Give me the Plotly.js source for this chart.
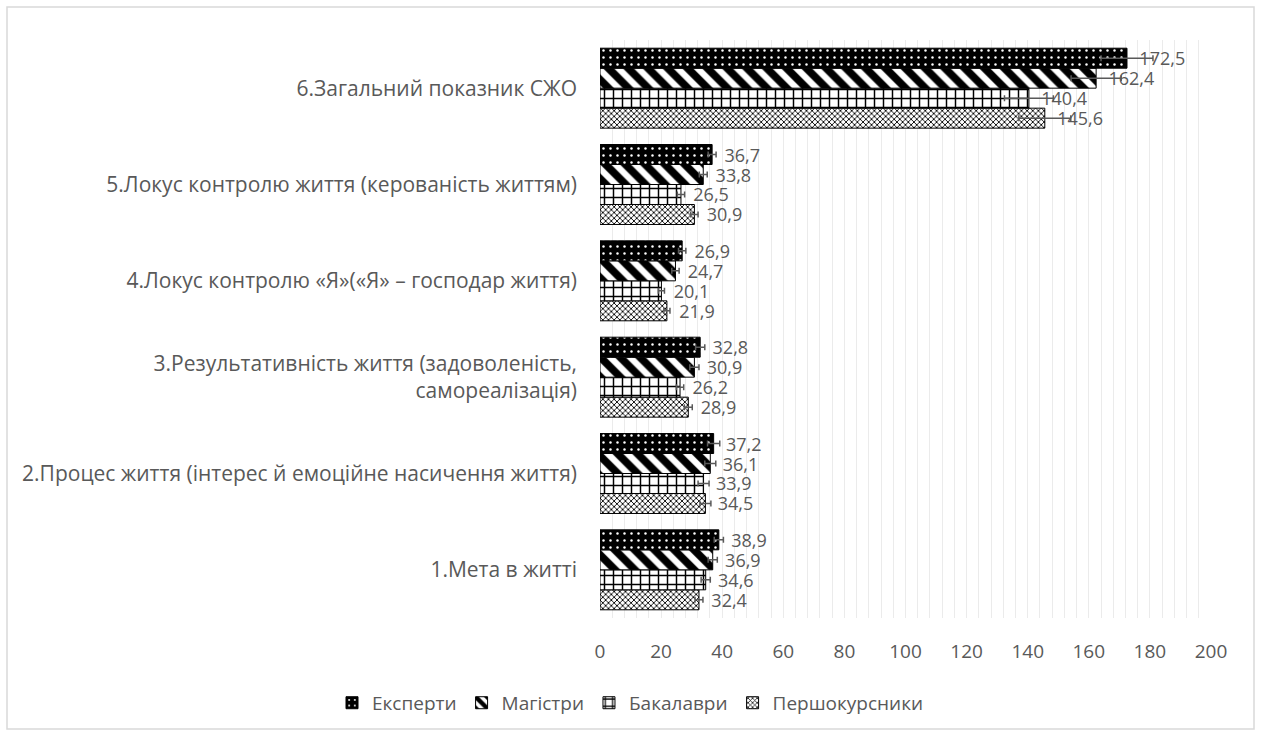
<!DOCTYPE html>
<html>
<head>
<meta charset="utf-8">
<script src="https://cdn.plot.ly/plotly-3.0.1.min.js"></script>
<style>html,body{margin:0;padding:0;background:#fff;}#chart{width:1261px;height:736px;}</style>
</head>
<body>
<div id="chart"></div>
<script>
const categories = [
  "1.Мета в житті",
  "2.Процес життя (інтерес й емоційне насичення життя)",
  "3.Результативність життя (задоволеність,<br>самореалізація)",
  "4.Локус контролю «Я»(«Я» – господар життя)",
  "5.Локус контролю життя (керованість життям)",
  "6.Загальний показник СЖО"
];
const experts    = [38.9, 37.2, 32.8, 26.9, 36.7, 172.5];
const masters    = [36.9, 36.1, 30.9, 24.7, 33.8, 162.4];
const bachelors  = [34.6, 33.9, 26.2, 20.1, 26.5, 140.4];
const freshmen   = [32.4, 34.5, 28.9, 21.9, 30.9, 145.6];
const expertsErr   = [1.5, 2.0, 1.5, 1.2, 1.3, 8.5];
const mastersErr   = [1.5, 1.8, 1.5, 1.2, 1.3, 8.2];
const bachelorsErr = [1.5, 1.8, 1.2, 1.0, 1.2, 8.0];
const freshmenErr  = [1.3, 1.8, 1.3, 1.0, 1.2, 8.5];
const seriesNames = ["Експерти", "Магістри", "Бакалаври", "Першокурсники"];
const xTicks = [0, 20, 40, 60, 80, 100, 120, 140, 160, 180, 200];

const FONT = "'Open Sans', Lato, sans-serif";
const GRAY = "#595959";
const fmt = v => "\u00a0\u00a0" + v.toFixed(1).replace(".", ",");

function mk(name, vals, errs, pattern) {
  return {
    type: "bar", orientation: "h", name: name,
    x: vals, y: categories,
    text: vals.map(fmt), textposition: "outside", cliponaxis: false, constraintext: "none",
    textfont: {family: FONT, size: 18, color: GRAY},
    marker: {color: pattern.bgcolor, line: {color: "#000", width: 1}, pattern: pattern},
    error_x: {type: "data", array: errs, visible: true, color: GRAY, thickness: 1.5, width: 3}
  };
}

const data = [
  mk(seriesNames[3], freshmen, freshmenErr, {shape: "x", fgcolor: "#000", bgcolor: "#fff", size: 4, solidity: 0.4, fillmode: "replace"}),
  mk(seriesNames[2], bachelors, bachelorsErr, {shape: "+", fgcolor: "#000", bgcolor: "#fff", size: 9, solidity: 0.3, fillmode: "replace"}),
  mk(seriesNames[1], masters, mastersErr, {shape: "\\", fgcolor: "#000", bgcolor: "#fff", size: 14, solidity: 0.55, fillmode: "replace"}),
  mk(seriesNames[0], experts, expertsErr, {shape: ".", fgcolor: "#fff", bgcolor: "#000", size: 7, solidity: 0.1, fillmode: "replace"})
];

const layout = {
  width: 1261, height: 736,
  paper_bgcolor: "#fff", plot_bgcolor: "#fff",
  margin: {l: 600, r: 50, t: 40, b: 118},
  barmode: "group", bargap: 0.17, bargroupgap: 0,
  font: {family: FONT, size: 19, color: GRAY},
  uniformtext: {mode: false},
  xaxis: {
    range: [0, 200], tickvals: xTicks, ticktext: xTicks.map(String),
    showgrid: true, gridcolor: "#ebebeb", gridwidth: 1,
    minor: {dtick: 4, showgrid: true, gridcolor: "#ebebeb", gridwidth: 1},
    zeroline: false, showline: false, ticks: "",
    ticklabelstandoff: 20,
    tickfont: {family: FONT, size: 19, color: GRAY}
  },
  yaxis: {
    type: "category", showgrid: false, zeroline: false, showline: false, ticks: "",
    ticklabelstandoff: 22,
    tickfont: {family: FONT, size: 21, color: GRAY}
  },
  showlegend: true,
  legend: {
    orientation: "h", traceorder: "reversed",
    xref: "container", yref: "container", x: 0.5, xanchor: "center", y: 0.045, yanchor: "middle",
    font: {family: FONT, size: 19, color: GRAY},
    itemwidth: 30
  },
  shapes: [{
    type: "rect", xref: "paper", yref: "paper",
    x0: (7 - 600) / 611, x1: (1254 - 600) / 611,
    y0: (618 - 729) / 578, y1: (618 - 7) / 578,
    line: {color: "#d9d9d9", width: 1.5}, fillcolor: "rgba(0,0,0,0)", layer: "below"
  }]
};

Plotly.newPlot("chart", data, layout, {displayModeBar: false, staticPlot: true});
</script>
</body>
</html>
